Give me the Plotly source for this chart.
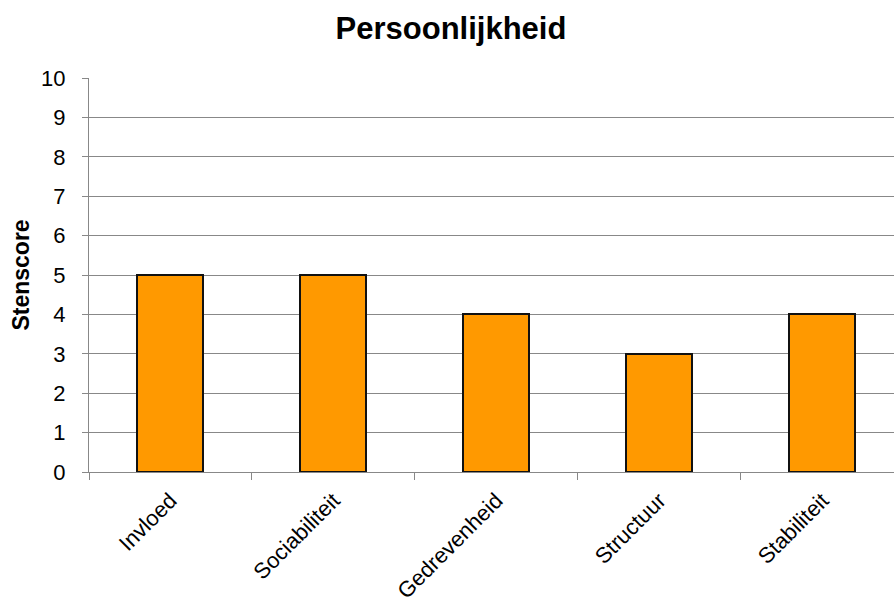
import plotly.graph_objects as go

categories = ["Invloed", "Sociabiliteit", "Gedrevenheid", "Structuur", "Stabiliteit"]
scores = [5, 5, 4, 3, 4]
y_ticks = list(range(0, 11))

fig = go.Figure()
fig.add_trace(go.Bar(
    x=categories, y=scores,
    marker=dict(color="#FF9900", line=dict(color="#111111", width=2)),
    width=0.405,
))

font_family = "Liberation Sans, Arial, sans-serif"
fig.update_layout(
    width=894, height=604,
    margin=dict(l=89, r=0, t=78, b=132),
    paper_bgcolor="white", plot_bgcolor="white",
    showlegend=False,
    title=dict(text="<b>Persoonlijkheid</b>", x=451 / 894, xanchor="center",
               y=1 - 28 / 604, yanchor="middle",
               font=dict(family=font_family, size=31, color="black")),
    font=dict(family=font_family, size=22, color="black"),
    bargap=0,
)
fig.update_xaxes(
    type="category",
    range=[-0.5, 4.44],
    tickson="boundaries",
    ticks="outside", ticklen=7, tickcolor="#888888", tickwidth=1,
    tickangle=-45,
    showline=True, linecolor="#888888", linewidth=1,
    showgrid=False,
    automargin=False,
    ticklabelstandoff=6,
    tickfont=dict(family=font_family, size=22, color="black"),
)
fig.update_yaxes(
    range=[0, 10],
    tickvals=y_ticks,
    ticks="outside", ticklen=6, tickcolor="#888888",
    showline=True, linecolor="#888888", linewidth=1,
    showgrid=True, gridcolor="#888888", gridwidth=1,
    zeroline=False,
    automargin=False,
    ticklabelstandoff=12,
    tickfont=dict(family=font_family, size=22, color="black"),
    title=dict(text="<b>Stenscore</b>", font=dict(family=font_family, size=23, color="black"), standoff=5),
)

fig.write_html("out.html")
